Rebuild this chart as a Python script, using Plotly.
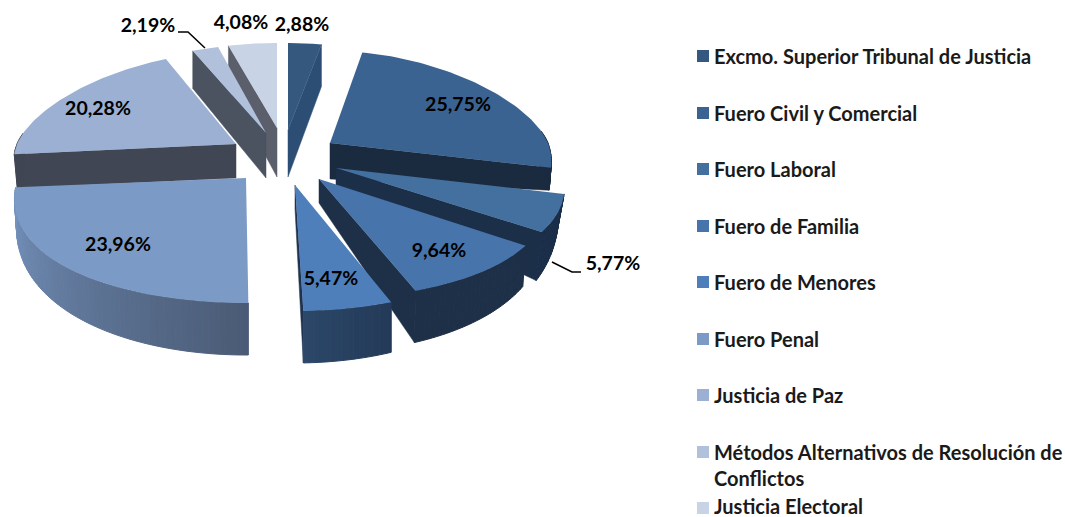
import math, textwrap
import plotly.graph_objects as go

# ---- data ----
categories = ["Excmo. Superior Tribunal de Justicia", "Fuero Civil y Comercial", "Fuero Laboral",
              "Fuero de Familia", "Fuero de Menores", "Fuero Penal", "Justicia de Paz",
              "Métodos Alternativos de Resolución de Conflictos", "Justicia Electoral"]
values = [2.88, 25.75, 5.77, 9.64, 5.47, 23.96, 20.28, 2.19, 4.08]
value_labels = ["2,88%", "25,75%", "5,77%", "9,64%", "5,47%", "23,96%", "20,28%", "2,19%", "4,08%"]

# ---- style: colours ----
top_colors = ["#35587f", "#3b6391", "#43709f", "#4874ac", "#4f7fba", "#7c9ac6", "#9bb0d3", "#b1c1dc", "#c8d3e6"]
legend_colors = top_colors
wall_colors = ["#2c4e74", "#1a2b40", "#1b2f49", "#1e3048", "#1f3350", "#7c9ac6", "#404654", "#4b5260", "#5b5f6b"]
outer_from = ["#2c4e74", "#1a2b40", "#1b2e49", "#1e3048", "#243a58", "#4a5b75", "#404654", "#4b5260", "#5b5f6b"]
outer_to = ["#2c4e74", "#1a2b40", "#1b2e49", "#1e3048", "#2c4868", "#7896c2", "#404654", "#4b5260", "#5b5f6b"]

# ---- style: projection of every exploded slice, in pixels ----
# tx, ty, rx, ry_up, ry_dn, depth, rx_b, ry_up_b, ry_dn_b, rot
geometry = [
    (288, 130, 226, 87, 120, 47, 226, 92, 120, 0),
    (330, 143, 218, 92, 110, 36, 216, 95, 50, 0),
    (336, 168, 225, 92, 115, 18, 219, 92, 170, 0),
    (319, 179, 226, 92, 120, 24, 223, 92, 150, 0),
    (295, 185, 225, 92, 126, 24, 225, 92, 154, 0),
    (246, 178, 228, 92, 125, 24, 226, 92, 153, 1.3),
    (236, 144, 219, 92, 105, 34, 216, 92, 105, 0),
    (266, 133, 229, 89, 105, 45, 229, 97, 105, 0),
    (277, 128, 232, 85, 105, 49, 232, 93, 105, 0),
]
PERSP = 0.18
draw_order = [0, 8, 7, 6, 1, 2, 5, 3, 4]
label_pos = [(302, 26), (458, 106), (613, 265), (439, 252), (331, 280), (118, 246), (98, 110), (148, 27), (241, 24)]
legend_y = [56, 113, 169, 226, 282, 339, 395, 452, 506]
leaders = {2: ((552, 262), (572, 272), (581, 272)), 7: ((178, 32), (188, 32), (205, 48))}


def project(theta, tx, ty, rx, ryu, ryd):
    s, c = math.sin(theta), math.cos(theta)
    return tx + rx * s * (1 - PERSP * c), ty - (ryu if c > 0 else ryd) * c


def mix(a, b, t):
    pa = [int(a[i:i + 2], 16) for i in (1, 3, 5)]
    pb = [int(b[i:i + 2], 16) for i in (1, 3, 5)]
    return "#%02x%02x%02x" % tuple(round(u + (v - u) * t) for u, v in zip(pa, pb))


fig = go.Figure()


def poly(points, color, seam=0.0):
    fig.add_trace(go.Scatter(
        x=[p[0] for p in points] + [points[0][0]], y=[p[1] for p in points] + [points[0][1]],
        mode="lines", fill="toself", fillcolor=color,
        line=dict(color=color, width=seam), hoverinfo="skip", showlegend=False))


total = sum(values)
cum = [0.0]
for v in values:
    cum.append(cum[-1] + v)

for i in draw_order:
    tx, ty, rx, ryu, ryd, depth, rxb, ryub, rydb, rot = geometry[i]
    a0 = math.radians(cum[i] / total * 360 + rot)
    a1 = math.radians(cum[i + 1] / total * 360 + rot)
    mid = (a0 + a1) / 2
    top = lambda t: project(t, tx, ty, rx, ryu, ryd)
    bot = lambda t: project(t, tx, ty + depth, rxb, ryub, rydb)

    # radial wall facing the viewer
    edge = a1 if mid < math.pi else a0
    if i != 5:
        poly([(tx, ty), top(edge), bot(edge), (tx, ty + depth)], wall_colors[i], 0.5)

    # outer curved wall, drawn in narrow strips for its shading
    n = max(2, int(math.degrees(a1 - a0) / 1.2))
    angles = [a0 + (a1 - a0) * k / n for k in range(n + 1)]
    for k in range(n):
        t0, t1 = angles[k], angles[k + 1]
        if math.cos((t0 + t1) / 2) < 0.12:
            poly([top(t0), top(t1), bot(t1), bot(t0)], mix(outer_from[i], outer_to[i], k / n), 1.0)

    # top face
    pts = [(tx, ty)] + [top(a0 + (a1 - a0) * k / 60) for k in range(61)]
    poly(pts, top_colors[i])

# leader lines
for pts in leaders.values():
    fig.add_trace(go.Scatter(x=[p[0] for p in pts], y=[p[1] for p in pts], mode="lines",
                             line=dict(color="black", width=1.5), hoverinfo="skip", showlegend=False))

# value labels
fig.add_trace(go.Scatter(x=[p[0] for p in label_pos], y=[p[1] for p in label_pos], mode="text",
                         text=value_labels, textposition="middle center",
                         textfont=dict(family="Lato", size=19.5, color="black", weight="bold"),
                         hoverinfo="skip", showlegend=False))

# legend swatches and texts
fig.add_trace(go.Scatter(x=[703] * len(categories), y=[56, 113, 169, 226, 282, 339, 395, 452, 508], mode="markers",
                         marker=dict(symbol="square", size=12, color=legend_colors, line=dict(width=0)),
                         hoverinfo="skip", showlegend=False))
annotations = []
for name, y in zip(categories, legend_y):
    for j, line in enumerate(textwrap.wrap(name, 38)):
        annotations.append(dict(x=712, y=y + j * 26, text=line, xref="x", yref="y", showarrow=False,
                                xanchor="left", yanchor="middle", align="left",
                                font=dict(family="Lato", size=20, color="#1a1a1a", weight="bold")))

fig.update_layout(width=1065, height=517, margin=dict(l=0, r=0, t=0, b=0),
                  paper_bgcolor="white", plot_bgcolor="white", showlegend=False,
                  annotations=annotations,
                  xaxis=dict(range=[0, 1065], visible=False, fixedrange=True),
                  yaxis=dict(range=[517, 0], visible=False, fixedrange=True))

fig.write_html("out.html", post_script="document.body.style.margin='0';",
               config={"displayModeBar": False})
